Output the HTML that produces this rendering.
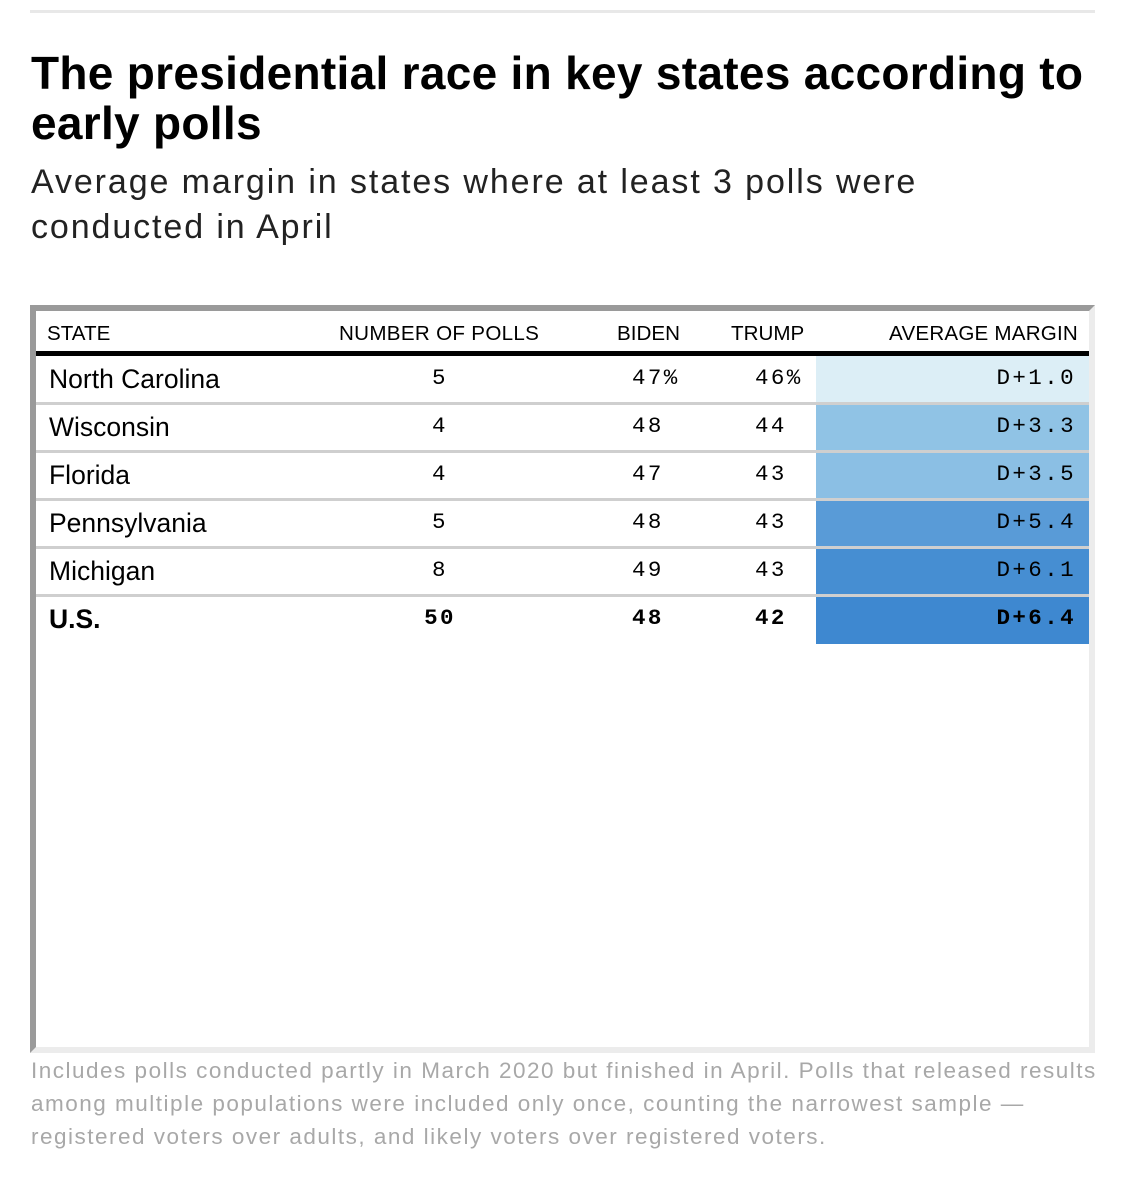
<!DOCTYPE html>
<html><head><meta charset="utf-8"><style>
body{margin:0;background:#fff;width:1125px;height:1181px;position:relative;overflow:hidden;font-family:"Liberation Sans",sans-serif;}
.abs{position:absolute;}
.mono{font-family:"Liberation Mono",monospace;letter-spacing:2.4px;font-size:22.5px;}
.hd{font-size:20.6px;}
</style></head><body>
<div class="abs" style="left:30px;top:10px;width:1065px;height:3px;background:#e8e8e8"></div>
<div class="abs" style="left:31px;top:48px;width:1090px;font-size:46px;letter-spacing:0.3px;font-weight:bold;line-height:50px;color:#000">The presidential race in key states according to early polls</div>
<div class="abs" style="left:31px;top:160px;width:960px;font-size:34px;letter-spacing:1.9px;line-height:45px;color:#222">Average margin in states where at least 3 polls were conducted in April</div>
<div class="abs" style="left:30px;top:305px;width:1053px;height:736px;border-left:6px solid #9a9a9a;border-top:6px solid #9a9a9a;border-right:6px solid #ececec;border-bottom:6px solid #ececec;box-sizing:content-box"></div>
<div class="abs hd" style="left:47px;top:322px">STATE</div>
<div class="abs hd" style="left:339px;top:322px;letter-spacing:0.3px">NUMBER OF POLLS</div>
<div class="abs hd" style="left:617px;top:322px">BIDEN</div>
<div class="abs hd" style="left:731px;top:322px">TRUMP</div>
<div class="abs hd" style="left:840px;top:322px;width:238px;text-align:right;letter-spacing:0.2px">AVERAGE MARGIN</div>
<div class="abs" style="left:36px;top:351px;width:1053px;height:5px;background:#000"></div>
<div id="rows"></div>
<div class="abs" style="left:31px;top:1054px;width:1078px;font-size:22.5px;letter-spacing:1.5px;line-height:33px;color:#a8a8a8">Includes polls conducted partly in March 2020 but finished in April. Polls that released results among multiple populations were included only once, counting the narrowest sample — registered voters over adults, and likely voters over registered voters.</div>
<script>
const states=["North Carolina","Wisconsin","Florida","Pennsylvania","Michigan","U.S."];
const polls=[5,4,4,5,8,50];
const biden=[47,48,47,48,49,48];
const trump=[46,44,43,43,43,42];
const margins=[1.0,3.3,3.5,5.4,6.1,6.4];
const rowsEl=document.getElementById('rows');
function color(m){
  const t=Math.max(0,Math.min(1,(m-1)/5.4));
  const a=[220,238,246],b=[62,136,208];
  let c;
  if(t<0.4){const u=t/0.4;c=a.map((v,i)=>Math.round(v+(([148,198,230][i])-v)*u));}
  else{const u=(t-0.4)/0.6;c=[148,198,230].map((v,i)=>Math.round(v+(b[i]-v)*u));}
  return `rgb(${c[0]},${c[1]},${c[2]})`;
}
const top0=356,rh=48;
states.forEach((s,i)=>{
  const y=top0+i*rh;const bold=i===states.length-1;
  const fw=bold?'bold':'normal';
  const bg=document.createElement('div');bg.className='abs';
  
  
  bg.style.cssText=`left:816px;top:${y}px;width:273px;height:${rh}px;background:${color(margins[i])}`;
  rowsEl.appendChild(bg);
  if(i>0){const r=document.createElement('div');r.className='abs';
    
    
    r.style.cssText=`left:36px;top:${y-2}px;width:1053px;height:3px;background:#cfcfcf`;rowsEl.appendChild(r);}
  const st=document.createElement('div');st.className='abs';
  
  
  st.style.cssText=`left:49px;top:${y+8}px;font-size:26.5px;font-weight:${fw}`;st.textContent=s;rowsEl.appendChild(st);
  const p=document.createElement('div');p.className='abs mono';
  
  
  p.style.cssText+=`left:390px;width:100px;text-align:center;top:${y+9}px;font-weight:${fw}`;p.textContent=polls[i];rowsEl.appendChild(p);
  const pct=i===0?'%':'';
  const b=document.createElement('div');b.className='abs mono';
  
  
  b.style.cssText+=`left:632px;top:${y+9}px;font-weight:${fw}`;b.textContent=biden[i]+pct;rowsEl.appendChild(b);
  const t=document.createElement('div');t.className='abs mono';
  
  
  t.style.cssText+=`left:755px;top:${y+9}px;font-weight:${fw}`;t.textContent=trump[i]+pct;rowsEl.appendChild(t);
  const m=document.createElement('div');m.className='abs mono';
  
  
  m.style.cssText+=`left:880px;width:196px;text-align:right;top:${y+9}px;font-weight:${fw}`;m.textContent='D+'+margins[i].toFixed(1);rowsEl.appendChild(m);
});
</script>
</body></html>
